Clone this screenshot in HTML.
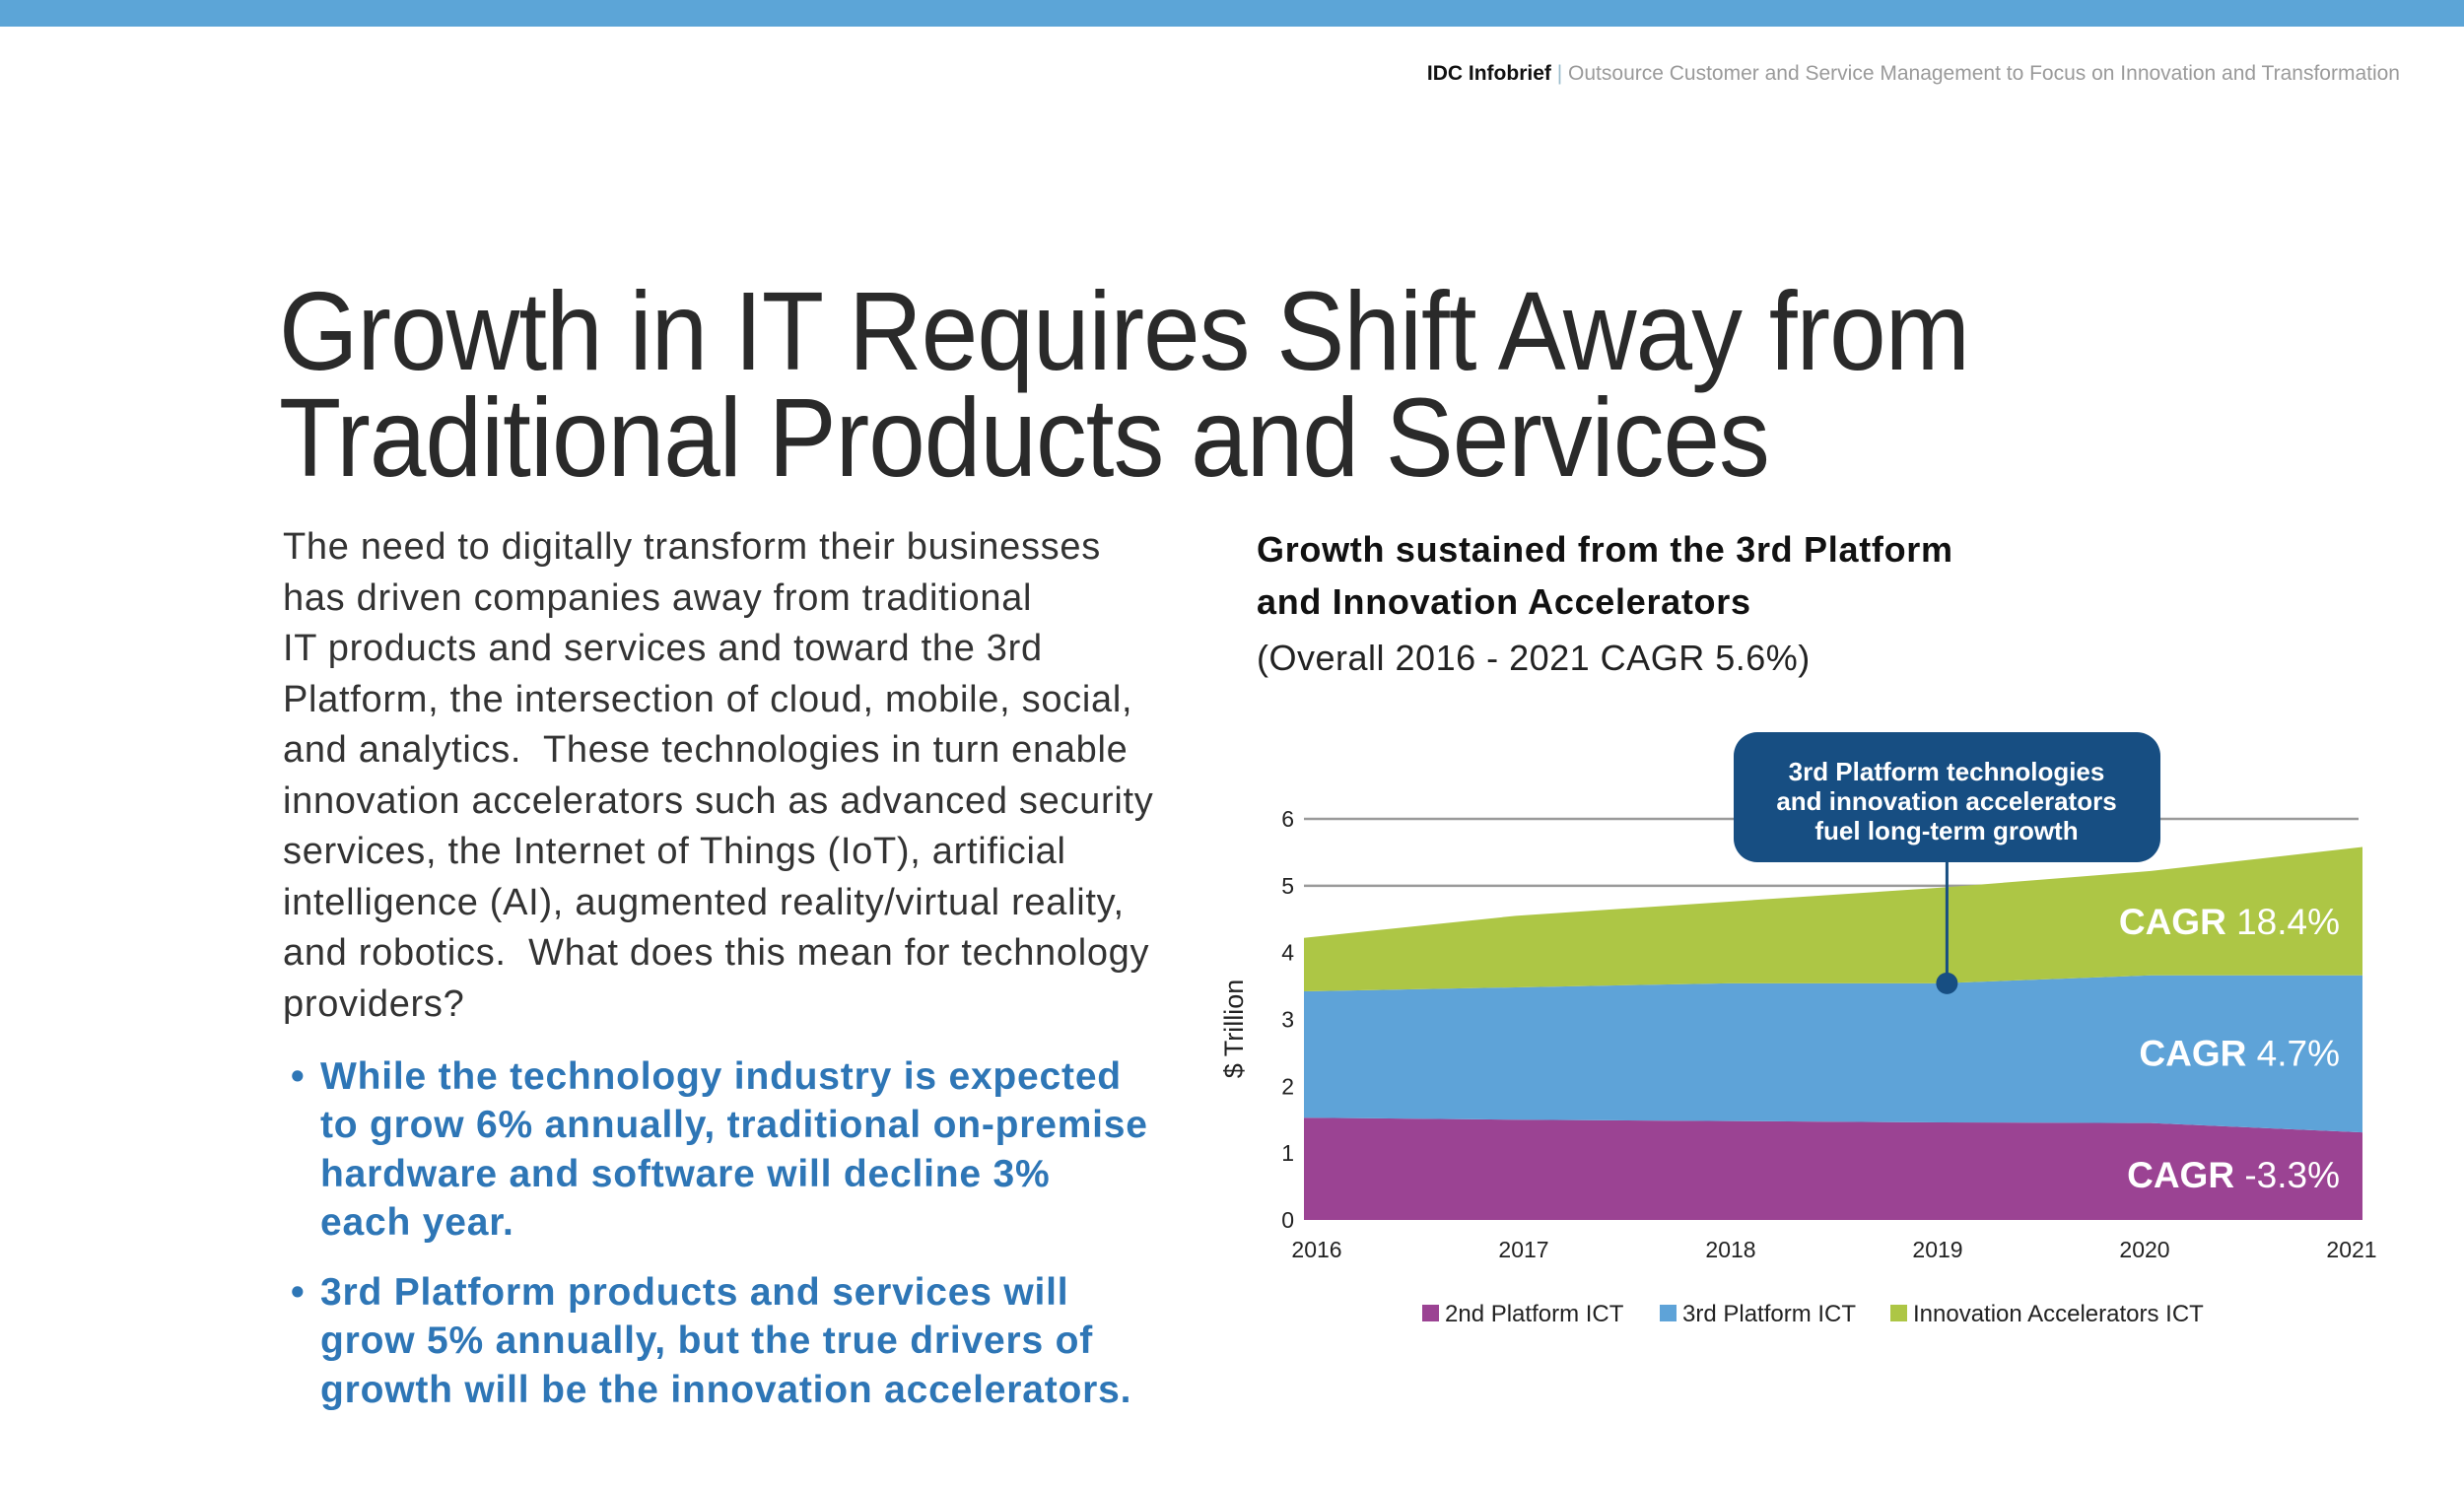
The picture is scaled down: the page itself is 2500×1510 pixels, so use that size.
<!DOCTYPE html>
<html><head><meta charset="utf-8">
<style>
html,body{margin:0;padding:0}
body{width:2500px;height:1510px;position:relative;background:#fff;overflow:hidden;font-family:"Liberation Sans",sans-serif}
.abs{position:absolute;white-space:nowrap}
#topbar{left:0;top:0;width:2500px;height:27px;background:#5ca5d7}
#header{right:65px;top:63px;font-size:21px;color:#9a9a9a}
#header b{color:#111}
#title{left:283px;top:282px;font-size:113px;line-height:108px;color:#2a2a2a;transform:scaleX(0.915);transform-origin:left top;letter-spacing:-1px}
#para{left:287px;top:530px;font-size:38px;line-height:51.5px;color:#333;letter-spacing:0.7px}
.bullet{left:295px;font-size:39px;line-height:49.3px;font-weight:bold;color:#2e76b6;letter-spacing:0.8px}
.bullet span.dot{position:absolute;left:0;top:0}
.bullet div{margin-left:30px}
#ctitle{left:1275px;top:531px;font-size:36px;line-height:53px;font-weight:bold;color:#111;letter-spacing:0.7px}
#csub{left:1275px;top:647px;font-size:36px;color:#222;letter-spacing:0.5px}
</style></head><body>
<div class="abs" id="topbar"></div>
<div class="abs" id="header"><b>IDC Infobrief</b> <span style="color:#9bbccc">|</span> Outsource Customer and Service Management to Focus on Innovation and Transformation</div>
<div class="abs" id="title">Growth in IT Requires Shift Away from<br>Traditional Products and Services</div>
<div class="abs" id="para">The need to digitally transform their businesses<br>has driven companies away from traditional<br>IT products and services and toward the 3rd<br>Platform, the intersection of cloud, mobile, social,<br>and analytics.&nbsp; These technologies in turn enable<br>innovation accelerators such as advanced security<br>services, the Internet of Things (IoT), artificial<br>intelligence (AI), augmented reality/virtual reality,<br>and robotics.&nbsp; What does this mean for technology<br>providers?</div>
<div class="abs bullet" style="top:1068px"><span class="dot">•</span><div>While the technology industry is expected<br>to grow 6% annually, traditional on-premise<br>hardware and software will decline 3%<br>each year.</div></div>
<div class="abs bullet" style="top:1287px"><span class="dot">•</span><div>3rd Platform products and services will<br>grow 5% annually, but the true drivers of<br>growth will be the innovation accelerators.</div></div>
<div class="abs" id="ctitle">Growth sustained from the 3rd Platform<br>and Innovation Accelerators</div>
<div class="abs" id="csub">(Overall 2016 - 2021 CAGR 5.6%)</div>

<svg id="chart" class="abs" style="left:0;top:0" width="2500" height="1510"></svg>
<script>
const years = ["2016","2017","2018","2019","2020","2021"];
const secondPlatform = [1.53,1.50,1.48,1.46,1.45,1.31];
const thirdPlatform = [1.89,1.98,2.06,2.08,2.21,2.35];
const innovation = [0.80,1.07,1.22,1.43,1.56,1.92];
const yTicks = [0,1,2,3,4,5,6];
const gridTicks = [5,6];
const seriesNames = ["2nd Platform ICT","3rd Platform ICT","Innovation Accelerators ICT"];
const cagrLabels = ["-3.3%","4.7%","18.4%"];

const NS="http://www.w3.org/2000/svg";
const svg=document.getElementById('chart');
const X0=1323,X1=2397,Y0=1238,Y6=831;
const xScale=i=>X0+i*(X1-X0)/(years.length-1);
const yScale=v=>Y0-v*(Y0-Y6)/6;
const colors=["#9b4393","#5ea3d8","#adc645"];
function mk(tag,attrs,text){const e=document.createElementNS(NS,tag);for(const k in attrs)e.setAttribute(k,attrs[k]);if(text!==undefined)e.textContent=text;svg.appendChild(e);return e;}

gridTicks.forEach(t=>{
  const g=mk('line',{x1:X0,x2:2393,y1:yScale(t),y2:yScale(t),stroke:'#9a9a9a','stroke-width':2.5});
  
  
});
const series=[secondPlatform,thirdPlatform,innovation];
let base=years.map(()=>0);
series.forEach((s,k)=>{
  const top=base.map((b,i)=>b+s[i]);
  let d='M'+years.map((_,i)=>xScale(i)+','+yScale(top[i])).join(' L');
  for(let i=years.length-1;i>=0;i--) d+=' L'+xScale(i)+','+yScale(base[i]);
  d+=' Z';
  const p=mk('path',{d:d,fill:colors[k]});
  
  
  base=top;
});
yTicks.forEach(t=>{
  const e=mk('text',{x:1313,y:yScale(t)+8,'text-anchor':'end','font-size':23,fill:'#222','font-family':'Liberation Sans, sans-serif'},String(t));
  
  
});
const LX0=1336,LX1=2386;
years.forEach((y,i)=>{
  const e=mk('text',{x:LX0+i*(LX1-LX0)/(years.length-1),y:1276,'text-anchor':'middle','font-size':23,fill:'#222','font-family':'Liberation Sans, sans-serif'},y);
  
  
});
const yt=mk('text',{x:0,y:0,transform:'translate(1261,1044) rotate(-90)','text-anchor':'middle','font-size':27,fill:'#222','font-family':'Liberation Sans, sans-serif'},'$ Trillion');


const cagrMid=[0.68,2.5,4.47];
series.forEach((s,k)=>{
  const t=mk('text',{x:2374,y:yScale(cagrMid[k])+13,'text-anchor':'end','font-size':37,fill:'#fff','font-family':'Liberation Sans, sans-serif'});
  const a=document.createElementNS(NS,'tspan');a.setAttribute('font-weight','bold');a.textContent='CAGR ';t.appendChild(a);
  const c=document.createElementNS(NS,'tspan');c.textContent=cagrLabels[k];t.appendChild(c);
  
  
});
const dotX=xScale(3)+8, dotY=yScale(secondPlatform[3]+thirdPlatform[3]);
const ln=mk('line',{x1:dotX,x2:dotX,y1:870,y2:dotY,stroke:'#174e82','stroke-width':3});


const dt=mk('circle',{cx:dotX,cy:dotY,r:11,fill:'#174e82'});


const bx=mk('rect',{x:1759,y:743,width:433,height:132,rx:24,fill:'#174e82'});


["3rd Platform technologies","and innovation accelerators","fuel long-term growth"].forEach((s,i)=>{
  const t=mk('text',{x:1975,y:792+i*30,'text-anchor':'middle','font-size':26,'font-weight':'bold',fill:'#fff','font-family':'Liberation Sans, sans-serif'},s);
  
  
});
const legX=[1443,1684,1918];
seriesNames.forEach((n,k)=>{
  const r=mk('rect',{x:legX[k],y:1324,width:17,height:17,fill:colors[k]});
  
  
  const t=mk('text',{x:legX[k]+23,y:1341,'font-size':24,fill:'#222','font-family':'Liberation Sans, sans-serif'},n);
  
  
});
</script>
</body></html>
